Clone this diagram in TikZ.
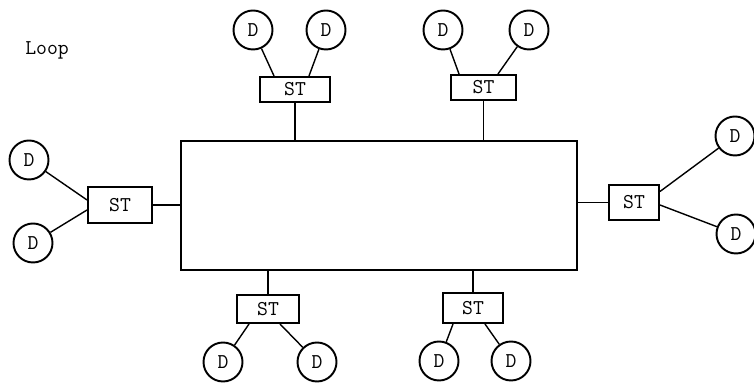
\documentclass[tikz,border=0pt]{standalone}
\usetikzlibrary{positioning, calc}

\begin{document}
\begin{tikzpicture}[font=\ttfamily\fontsize{12}{14}\selectfont,
    ring/.style={draw, line width=1.4pt, minimum width=7.92cm, minimum height=2.58cm, inner sep=0pt},
    station/.style={draw, line width=1.1pt, minimum width=1.3cm, minimum height=0.55cm, inner sep=1pt},
    device/.style={draw, circle, line width=1.1pt, minimum size=0.78cm, inner sep=0pt},
    link/.style={line width=0.8pt}
  ]
  \useasboundingbox (0,0) rectangle (15.08,7.66);

  \node (title) at (0.94, 6.66) {Loop};
  \node[ring] (loop) at (7.58, 3.55) {};

  \node[station, minimum width=1.4cm, minimum height=0.5cm] (stA) at (5.90, 5.87) {ST};
  \node[station, minimum width=1.3cm, minimum height=0.5cm] (stB) at (9.67, 5.91) {ST};
  \node[station, minimum width=1.28cm, minimum height=0.72cm] (stL) at (2.40, 3.56) {ST};
  \node[station, minimum width=1.0cm, minimum height=0.7cm] (stR) at (12.68, 3.61) {ST};
  \node[station, minimum width=1.24cm, minimum height=0.56cm] (stC) at (5.36, 1.48) {ST};
  \node[station, minimum width=1.2cm, minimum height=0.6cm] (stD) at (9.46, 1.50) {ST};

  \node[device] (dA1) at (5.06, 7.06) {D};
  \node[device] (dA2) at (6.52, 7.06) {D};
  \node[device] (dB1) at (8.86, 7.06) {D};
  \node[device] (dB2) at (10.58, 7.06) {D};
  \node[device] (dL1) at (0.58, 4.46) {D};
  \node[device] (dL2) at (0.66, 2.80) {D};
  \node[device] (dR1) at (14.70, 4.94) {D};
  \node[device] (dR2) at (14.72, 2.98) {D};
  \node[device] (dC1) at (4.46, 0.42) {D};
  \node[device] (dC2) at (6.34, 0.42) {D};
  \node[device] (dD1) at (8.78, 0.44) {D};
  \node[device] (dD2) at (10.22, 0.44) {D};

  \draw[link] (stA.south) -- (stA.south |- loop.north);
  \draw[link] (stB.south) -- (stB.south |- loop.north);
  \draw[link] (stL.east) -- (stL.east -| loop.west);
  \draw[link] (stR.west) -- (stR.west -| loop.east);
  \draw[link] (stC.north) -- (stC.north |- loop.south);
  \draw[link] (stD.north) -- (stD.north |- loop.south);

  \draw[link] (dA1) -- ([xshift=0.30cm]stA.north west);
  \draw[link] (dA2) -- ([xshift=-0.44cm]stA.north east);
  \draw[link] (dB1) -- ([xshift=0.18cm]stB.north west);
  \draw[link] (dB2) -- ([xshift=-0.38cm]stB.north east);
  \draw[link] (dL1) -- ([yshift=0.10cm]stL.west);
  \draw[link] (dL2) -- ([yshift=-0.10cm]stL.west);
  \draw[link] (dR1) -- ([yshift=0.22cm]stR.east);
  \draw[link] (dR2) -- ([yshift=-0.05cm]stR.east);
  \draw[link] (dC1) -- ([xshift=0.26cm]stC.south west);
  \draw[link] (dC2) -- ([xshift=-0.40cm]stC.south east);
  \draw[link] (dD1) -- ([xshift=0.22cm]stD.south west);
  \draw[link] (dD2) -- ([xshift=-0.38cm]stD.south east);
\end{tikzpicture}
\end{document}
